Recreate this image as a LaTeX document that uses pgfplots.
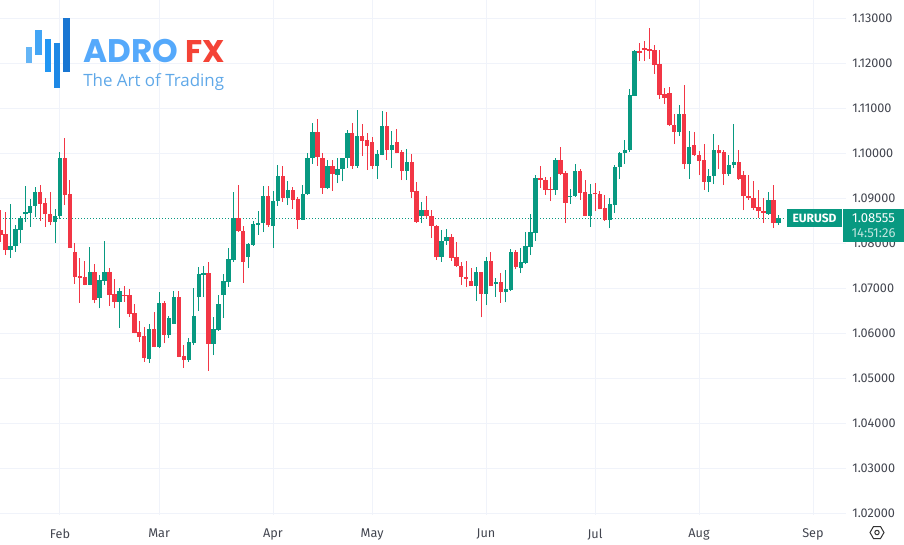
\documentclass[border=0pt]{standalone}
\usepackage{fontspec}
\usepackage{pgfplots}
\usepackage{pgfplotstable}
\pgfplotsset{compat=1.18}
\setmainfont{Fira Sans}
\newfontfamily\logofont{Poppins}
\newfontfamily\subfont{Open Sans}

\definecolor{upcol}{HTML}{089981}
\definecolor{downcol}{HTML}{F23645}
\definecolor{gridcol}{HTML}{F0F3FA}
\definecolor{labelcol}{HTML}{42454F}
\definecolor{logoa}{HTML}{64B5F6}
\definecolor{logob}{HTML}{42A5F5}
\definecolor{logoc}{HTML}{2196F3}
\definecolor{logod}{HTML}{1E88E5}
\definecolor{logoe}{HTML}{1976D2}
\definecolor{logotext}{HTML}{55A9FB}
\definecolor{logored}{HTML}{F44336}
\definecolor{logosub}{HTML}{5FA8E8}

% daily EURUSD candles, x = weekday count from 1 Feb
\pgfplotstableread{
x o h l c
-12 1.0829 1.0873 1.0803 1.0818
-11 1.0820 1.0870 1.0773 1.0784
-10 1.0784 1.0887 1.0767 1.0793
-9 1.0793 1.0839 1.0781 1.0831
-8 1.0829 1.0860 1.0801 1.0855
-7 1.0864 1.0927 1.0847 1.0869
-6 1.0867 1.0897 1.0836 1.0882
-5 1.0882 1.0924 1.0857 1.0913
-4 1.0913 1.0929 1.0850 1.0887
-3 1.0889 1.0899 1.0836 1.0864
-2 1.0864 1.0913 1.0839 1.0847
-1 1.0847 1.0876 1.0801 1.0860
0 1.0860 1.1002 1.0853 1.0989
1 1.0989 1.1033 1.0884 1.0907
2 1.0909 1.0940 1.0789 1.0790
3 1.0779 1.0799 1.0709 1.0724
4 1.0726 1.0767 1.0667 1.0722
5 1.0724 1.0760 1.0706 1.0707
6 1.0707 1.0791 1.0706 1.0736
7 1.0736 1.0753 1.0666 1.0673
8 1.0678 1.0729 1.0655 1.0718
9 1.0716 1.0804 1.0707 1.0736
10 1.0736 1.0744 1.0660 1.0684
11 1.0687 1.0721 1.0655 1.0670
12 1.0670 1.0699 1.0612 1.0693
13 1.0685 1.0704 1.0670 1.0682
14 1.0684 1.0698 1.0636 1.0642
15 1.0644 1.0664 1.0599 1.0601
16 1.0602 1.0626 1.0579 1.0592
17 1.0593 1.0614 1.0536 1.0544
18 1.0542 1.0620 1.0533 1.0608
19 1.0608 1.0646 1.0568 1.0570
20 1.0570 1.0691 1.0566 1.0666
21 1.0666 1.0672 1.0577 1.0596
22 1.0596 1.0638 1.0588 1.0633
23 1.0621 1.0693 1.0620 1.0679
24 1.0679 1.0693 1.0546 1.0547
25 1.0549 1.0573 1.0523 1.0540
26 1.0540 1.0590 1.0536 1.0579
27 1.0577 1.0701 1.0573 1.0638
28 1.0679 1.0747 1.0649 1.0731
29 1.0729 1.0749 1.0679 1.0733
30 1.0733 1.0758 1.0516 1.0576
31 1.0576 1.0635 1.0551 1.0609
32 1.0607 1.0684 1.0605 1.0664
33 1.0684 1.0731 1.0633 1.0716
34 1.0714 1.0788 1.0703 1.0764
35 1.0762 1.0913 1.0758 1.0855
36 1.0855 1.0930 1.0824 1.0826
37 1.0827 1.0838 1.0712 1.0758
38 1.0770 1.0799 1.0744 1.0798
39 1.0796 1.0850 1.0794 1.0842
40 1.0841 1.0872 1.0818 1.0844
41 1.0844 1.0927 1.0824 1.0905
42 1.0905 1.0927 1.0836 1.0840
43 1.0838 1.0916 1.0789 1.0894
44 1.0893 1.0973 1.0883 1.0950
45 1.0950 1.0971 1.0892 1.0900
46 1.0900 1.0938 1.0884 1.0918
47 1.0918 1.0924 1.0876 1.0896
48 1.0898 1.0903 1.0831 1.0852
49 1.0852 1.0928 1.0851 1.0908
50 1.0908 1.1001 1.0907 1.0990
51 1.0989 1.1067 1.0976 1.1047
52 1.1047 1.1076 1.0972 1.0991
53 1.0989 1.0999 1.0909 1.0922
54 1.0922 1.0984 1.0919 1.0971
55 1.0971 1.0984 1.0916 1.0953
56 1.0952 1.0989 1.0933 1.0964
57 1.0964 1.0990 1.0937 1.0989
58 1.0989 1.1051 1.0966 1.1044
59 1.1044 1.1067 1.0965 1.0971
60 1.0971 1.1096 1.0967 1.1038
61 1.1038 1.1064 1.0993 1.1027
62 1.1028 1.1044 1.0963 1.1016
63 1.1024 1.1036 1.0964 1.0971
64 1.0971 1.1007 1.0942 1.0998
65 1.0996 1.1093 1.0995 1.1060
66 1.1060 1.1091 1.0984 1.1007
67 1.1007 1.1049 1.0967 1.1018
68 1.1024 1.1053 1.0999 1.1000
69 1.1002 1.1007 1.0940 1.0960
70 1.0960 1.1008 1.0940 1.0980
71 1.0980 1.0998 1.0900 1.0913
72 1.0915 1.0936 1.0845 1.0847
73 1.0860 1.0891 1.0844 1.0873
74 1.0873 1.0904 1.0856 1.0860
75 1.0860 1.0873 1.0811 1.0838
76 1.0838 1.0840 1.0762 1.0768
77 1.0769 1.0829 1.0758 1.0804
78 1.0804 1.0831 1.0796 1.0813
79 1.0813 1.0820 1.0761 1.0767
80 1.0768 1.0802 1.0747 1.0749
81 1.0749 1.0758 1.0707 1.0724
82 1.0724 1.0759 1.0702 1.0721
83 1.0716 1.0744 1.0704 1.0705
84 1.0705 1.0747 1.0671 1.0735
85 1.0735 1.0736 1.0635 1.0687
86 1.0687 1.0769 1.0662 1.0760
87 1.0760 1.0780 1.0704 1.0705
88 1.0710 1.0722 1.0681 1.0713
89 1.0713 1.0733 1.0667 1.0691
90 1.0691 1.0740 1.0668 1.0698
91 1.0696 1.0787 1.0693 1.0781
92 1.0781 1.0784 1.0742 1.0747
93 1.0745 1.0790 1.0733 1.0757
94 1.0756 1.0825 1.0753 1.0793
95 1.0792 1.0865 1.0773 1.0825
96 1.0822 1.0951 1.0804 1.0944
97 1.0944 1.0971 1.0922 1.0940
98 1.0940 1.0947 1.0907 1.0918
99 1.0920 1.0947 1.0893 1.0917
100 1.0918 1.0990 1.0907 1.0984
101 1.0984 1.1013 1.0951 1.0953
102 1.0956 1.0960 1.0844 1.0889
103 1.0903 1.0920 1.0887 1.0905
104 1.0904 1.0975 1.0903 1.0961
105 1.0961 1.0964 1.0896 1.0912
106 1.0913 1.0940 1.0859 1.0861
107 1.0861 1.0931 1.0836 1.0909
108 1.0911 1.0933 1.0871 1.0908
109 1.0909 1.0916 1.0875 1.0876
110 1.0878 1.0907 1.0850 1.0851
111 1.0851 1.0900 1.0833 1.0887
112 1.0885 1.0973 1.0867 1.0969
113 1.0969 1.1002 1.0942 1.1000
114 1.0999 1.1029 1.0976 1.1007
115 1.1007 1.1142 1.1002 1.1129
116 1.1127 1.1228 1.1127 1.1227
117 1.1226 1.1244 1.1204 1.1223
118 1.1233 1.1249 1.1204 1.1230
119 1.1232 1.1278 1.1209 1.1227
120 1.1229 1.1240 1.1176 1.1196
121 1.1198 1.1229 1.1119 1.1129
122 1.1131 1.1144 1.1109 1.1122
123 1.1133 1.1147 1.1060 1.1062
124 1.1063 1.1087 1.1020 1.1047
125 1.1047 1.1107 1.1038 1.1086
126 1.1086 1.1151 1.0964 1.0975
127 1.0975 1.1049 1.0942 1.1013
128 1.1018 1.1047 1.0993 1.0996
129 1.0996 1.1004 1.0951 1.0982
130 1.0984 1.1020 1.0918 1.0936
131 1.0936 1.0964 1.0913 1.0949
132 1.0949 1.1042 1.0931 1.1007
133 1.1007 1.1018 1.0964 1.1001
134 1.1002 1.1007 1.0929 1.0953
135 1.0953 1.0996 1.0949 1.0973
136 1.0973 1.1064 1.0966 1.0981
137 1.0981 1.1007 1.0941 1.0942
138 1.0951 1.0960 1.0873 1.0904
139 1.0904 1.0951 1.0896 1.0900
140 1.0901 1.0938 1.0873 1.0878
141 1.0879 1.0918 1.0856 1.0871
142 1.0871 1.0900 1.0844 1.0867
143 1.0864 1.0913 1.0863 1.0896
144 1.0896 1.0929 1.0833 1.0844
145 1.0844 1.0862 1.0840 1.0856
}\candles

\pgfplotsset{
  wick/.style={draw=none, mark=none, error bars/.cd, y dir=plus, y explicit, error mark=none,
    error bar style={draw=#1, line width=0.75pt}},
  body/.style={draw=none, mark=none, error bars/.cd, y dir=plus, y explicit, error mark=none,
    error bar style={draw=#1, line width=3.3pt}},
}

\begin{document}
\begin{tikzpicture}
\useasboundingbox (0pt,0pt) rectangle (678pt,-408pt);
\begin{axis}[
    at={(0pt,-386.1pt)}, anchor=south west,
    scale only axis, width=634.5pt, height=386.1pt,
    xmin=-12.11, xmax=158.66, ymin=1.0196, ymax=1.134,
    axis line style={draw=none},
    major tick length=0pt,
    grid=major,
    grid style={gridcol, line width=0.75pt},
    xtick={0,20,43,63,86,108,129,152},
    xticklabels={Feb,Mar,Apr,May,Jun,Jul,Aug,Sep},
    ytick={1.02,1.03,1.04,1.05,1.06,1.07,1.08,1.09,1.10,1.11,1.12,1.13},
    yticklabel pos=right,
    scaled y ticks=false,
    yticklabel style={font=\fontsize{9.5}{10}\selectfont, text=labelcol, inner sep=0pt, xshift=4.5pt,
      /pgf/number format/fixed, /pgf/number format/fixed zerofill, /pgf/number format/precision=5,
      /pgf/number format/assume math mode=true},
    xticklabel style={font=\fontsize{9.5}{10}\selectfont, text=labelcol, inner sep=0pt, yshift=-10.5pt},
]
\addplot[upcol, line width=0.75pt, dash pattern=on 0.75pt off 1.5pt] coordinates {(-12.11,1.08555) (146.0,1.08555)};
\addplot[wick=upcol] table[x expr={\thisrow{c}>=\thisrow{o} ? \thisrow{x} : nan}, y=l, y error plus expr=\thisrow{h}-\thisrow{l}] {\candles};
\addplot[wick=downcol] table[x expr={\thisrow{c}<\thisrow{o} ? \thisrow{x} : nan}, y=l, y error plus expr=\thisrow{h}-\thisrow{l}] {\candles};
\addplot[body=upcol] table[x expr={\thisrow{c}>=\thisrow{o} ? \thisrow{x} : nan}, y=o, y error plus expr=\thisrow{c}-\thisrow{o}] {\candles};
\addplot[body=downcol] table[x expr={\thisrow{c}<\thisrow{o} ? \thisrow{x} : nan}, y=c, y error plus expr=\thisrow{o}-\thisrow{c}] {\candles};
\end{axis}

\begin{scope}[x=0.75pt, y=-0.75pt]
% price tags
\fill[upcol] (787,209.3) rectangle (842,227);
\fill[upcol] (843,209.3) rectangle (904,241.7);
\node[white, font=\fontsize{9}{10}\selectfont\bfseries, anchor=center] at (814.5,218.5) {EURUSD};
\node[white, font=\fontsize{9.8}{10}\selectfont, anchor=center] at (873.5,218.5) {1.08555};
\node[white!75!upcol, font=\fontsize{9.8}{10}\selectfont, anchor=center] at (873.5,233) {14:51:26};

% settings icon
\draw[black!80, line width=0.75pt] (870,532.5) -- (873.5,526.5) -- (880.5,526.5) -- (884,532.5) -- (880.5,538.5) -- (873.5,538.5) -- cycle;
\draw[black!80, line width=0.75pt] (877,532.5) circle[radius=2.2];

% logo
\fill[logoa] (26,46.7) rectangle (32.3,63.3);
\fill[logob] (35.3,30.3) rectangle (41.7,55);
\fill[logoc] (44.7,39.3) rectangle (51,71.7);
\fill[logod] (54,42.7) rectangle (60.3,87.7);
\fill[logoe] (63.3,18) rectangle (69.7,71.7);
\node[anchor=base west, inner sep=0pt, text=logotext, font=\logofont\bfseries\fontsize{24.5}{26}\selectfont] at (83,62.3) {ADRO};
\node[anchor=base west, inner sep=0pt, text=logored, font=\logofont\bfseries\fontsize{23.5}{26}\selectfont] at (185,62.3) {FX};
\node[anchor=base west, inner sep=0pt, text=logosub, font=\subfont\fontsize{12.7}{14}\selectfont] at (83,86) {The Art of Trading};
\end{scope}
\end{tikzpicture}
\end{document}
